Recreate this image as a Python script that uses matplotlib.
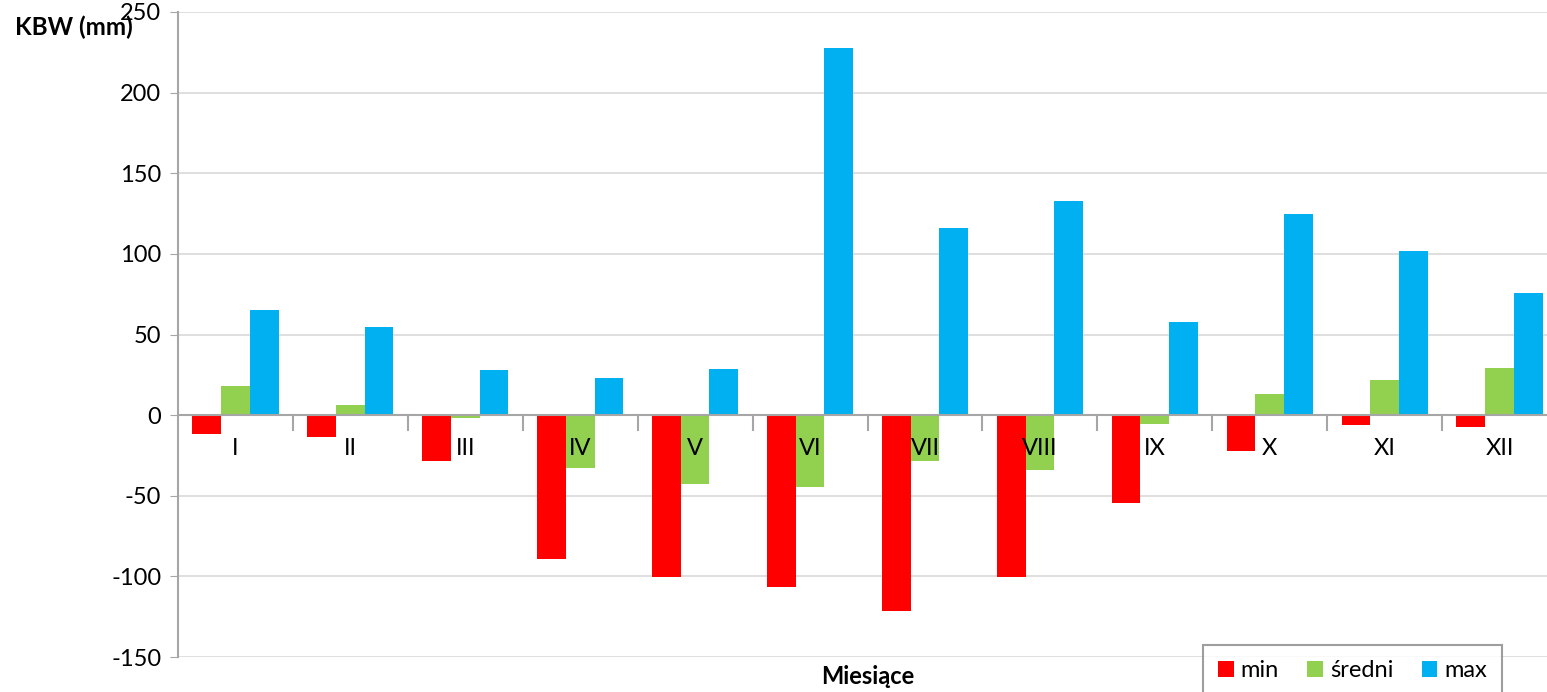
import numpy as np
import matplotlib.pyplot as plt

plt.rcParams['font.family'] = ['Lato', 'DejaVu Sans']
plt.rcParams['axes.unicode_minus'] = False

# monthly KBW values (mm)
months = ['I', 'II', 'III', 'IV', 'V', 'VI', 'VII', 'VIII', 'IX', 'X', 'XI', 'XII']
kbw_min = [-12, -13.5, -28.5, -89, -100.5, -106.5, -121.5, -100.5, -54.5, -22, -6, -7.5]
kbw_mean = [18, 6, -2, -33, -43, -44.5, -28.5, -34, -5.5, 13, 21.5, 29]
kbw_max = [65, 54.5, 28, 23, 28.5, 227.5, 116, 132.5, 58, 125, 101.5, 76]

fig = plt.figure(figsize=(15.47, 6.92), dpi=100)
# axes run slightly past the right edge of the figure
ax = fig.add_axes([178/1547, (692-657)/692, (1557-178)/1547, (657-12)/692])

x = np.arange(len(months))
width = 0.25

ax.bar(x - width, kbw_min, width, color='#ff0000', label='min', zorder=3)
ax.bar(x, kbw_mean, width, color='#92d050', label='średni', zorder=3)
ax.bar(x + width, kbw_max, width, color='#00b0f0', label='max', zorder=3)

ax.set_xlim(-0.5, len(months) - 0.5)
ax.set_ylim(-150, 250)
ax.set_yticks(np.arange(-150, 251, 50))
ax.yaxis.grid(True, color='#d9d9d9', linewidth=1.2, zorder=0)
ax.tick_params(axis='y', labelsize=17, length=6, color='#a6a6a6', pad=6)

# category labels sit just under the zero line
ax.set_xticks([])
for i, m in enumerate(months):
    ax.text(x[i], -21, m, ha='center', va='center', fontsize=17, zorder=4)
ax.axhline(0, color='#a6a6a6', linewidth=1.5, zorder=4)
for b in np.arange(0.5, len(months) - 0.5, 1):
    ax.plot([b, b], [0, -9], color='#a6a6a6', linewidth=1.5, zorder=4)

for s in ['top', 'right', 'bottom']:
    ax.spines[s].set_visible(False)
ax.spines['left'].set_color('#a6a6a6')
ax.spines['left'].set_linewidth(1.5)

fig.text(15/1547, 1 - 27/692, 'KBW (mm)', fontsize=17.5, fontweight='bold', va='center', ha='left')
fig.text(868/1547, 1 - 677/692, 'Miesiące', fontsize=17, fontweight='bold', va='center', ha='center')

leg = ax.legend(ncol=3, fontsize=17, loc='upper left', bbox_to_anchor=(1203/1547, 1 - 645/692),
                bbox_transform=fig.transFigure, frameon=True, fancybox=False,
                handlelength=0.65, handleheight=0.65, handletextpad=0.3, columnspacing=1.2,
                borderpad=0.65, borderaxespad=0)
leg.get_frame().set_edgecolor('#868686')
leg.get_frame().set_linewidth(1.5)

fig.savefig('out.png', dpi=100)
